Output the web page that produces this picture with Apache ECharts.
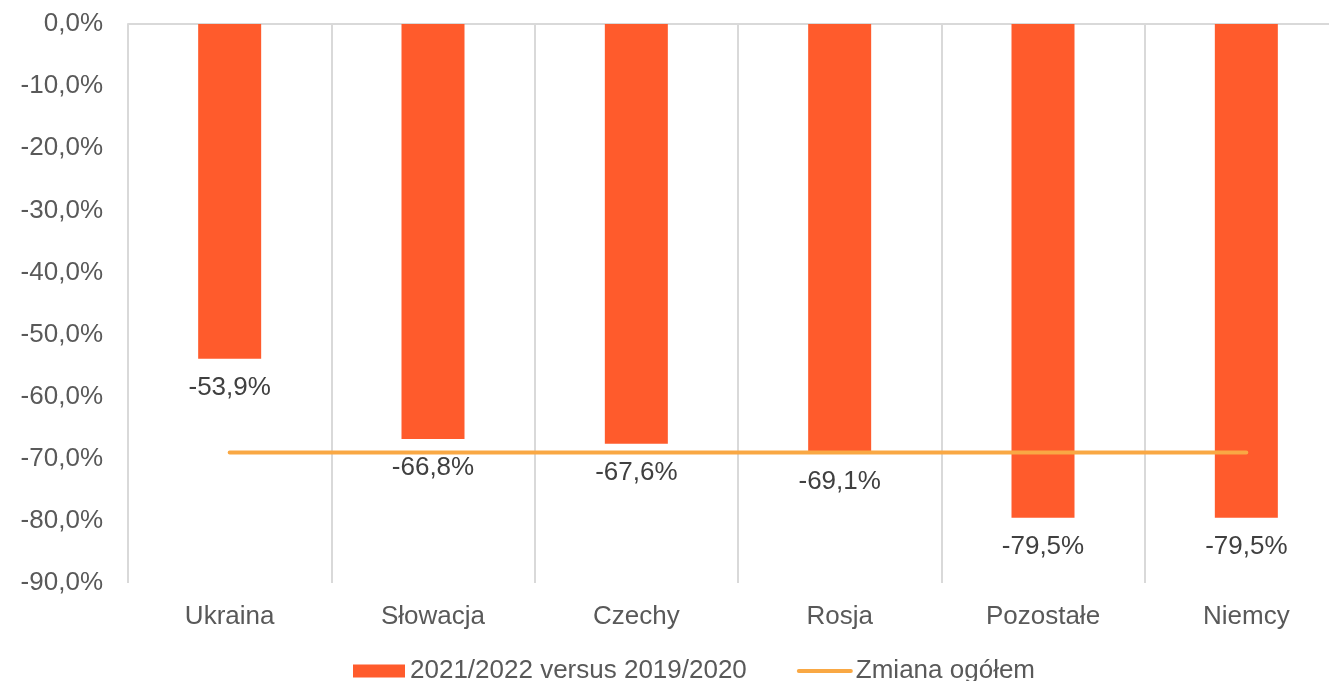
<!DOCTYPE html>
<html>
<head>
<meta charset="utf-8">
<script src="https://cdn.jsdelivr.net/npm/echarts@6/dist/echarts.min.js"></script>
<style>
html,body{margin:0;padding:0;background:#fff;overflow:hidden;width:1329px;height:681px;}
#c{width:1348px;height:681px;}
</style>
</head>
<body>
<div id="c"></div>
<script>
const categories = ['Ukraina', 'Słowacja', 'Czechy', 'Rosja', 'Pozostałe', 'Niemcy'];
const changeValues = [-53.9, -66.8, -67.6, -69.1, -79.5, -79.5];
const totalValues = [-69.0, -69.0, -69.0, -69.0, -69.0, -69.0];
const seriesNames = ['2021/2022 versus 2019/2020', 'Zmiana ogółem'];
const yMin = -90, yMax = 0, yStep = 10;

const fmt = v => Number(v).toFixed(1).replace('.', ',') + '%';
const FONT = '"Liberation Sans", Arial, sans-serif';
const FS = 26;

const chart = echarts.init(document.getElementById('c'), null, {renderer: 'canvas'});
chart.setOption({
  animation: false,
  textStyle: {fontFamily: FONT},
  grid: {left: 128, top: 24, right: 0, bottom: 98, containLabel: false},
  legend: {
    left: 348, top: 653,
    itemWidth: 52, itemHeight: 13, itemGap: 50,
    textStyle: {fontFamily: FONT, fontSize: FS, color: '#595959'},
    data: [
      {name: seriesNames[0], icon: 'rect'},
      {name: seriesNames[1], itemStyle: {color: 'rgba(0,0,0,0)', borderWidth: 0, opacity: 0},
       lineStyle: {color: '#F9A844', width: 4, cap: 'round'}}
    ]
  },
  xAxis: [
    {
      type: 'category', data: categories, position: 'bottom',
      axisLine: {show: false}, axisTick: {show: false},
      axisLabel: {fontFamily: FONT, fontSize: FS, color: '#595959', margin: 21},
      splitLine: {show: true, lineStyle: {color: '#D9D9D9', width: 2}}
    },
    {
      type: 'category', data: categories, position: 'top',
      axisLine: {show: true, lineStyle: {color: '#D9D9D9', width: 2}},
      axisTick: {show: false}, axisLabel: {show: false}, splitLine: {show: false}
    }
  ],
  yAxis: {
    type: 'value', min: yMin, max: yMax, interval: yStep,
    axisLine: {show: false}, axisTick: {show: false}, splitLine: {show: false},
    axisLabel: {fontFamily: FONT, fontSize: FS, color: '#595959', margin: 25, formatter: fmt}
  },
  series: [
    {
      name: seriesNames[0], type: 'bar', data: changeValues, barWidth: 63,
      itemStyle: {color: '#FF5B2C'},
      label: {show: true, position: 'bottom', distance: 16, fontFamily: FONT, fontSize: FS, color: '#404040', formatter: p => fmt(p.value)}
    },
    {
      name: seriesNames[1], type: 'line', data: totalValues, symbol: 'none', showSymbol: false, z: 5,
      lineStyle: {color: '#F9A844', width: 4, cap: 'round'},
      itemStyle: {color: '#F9A844'}
    }
  ]
});
</script>
</body>
</html>
